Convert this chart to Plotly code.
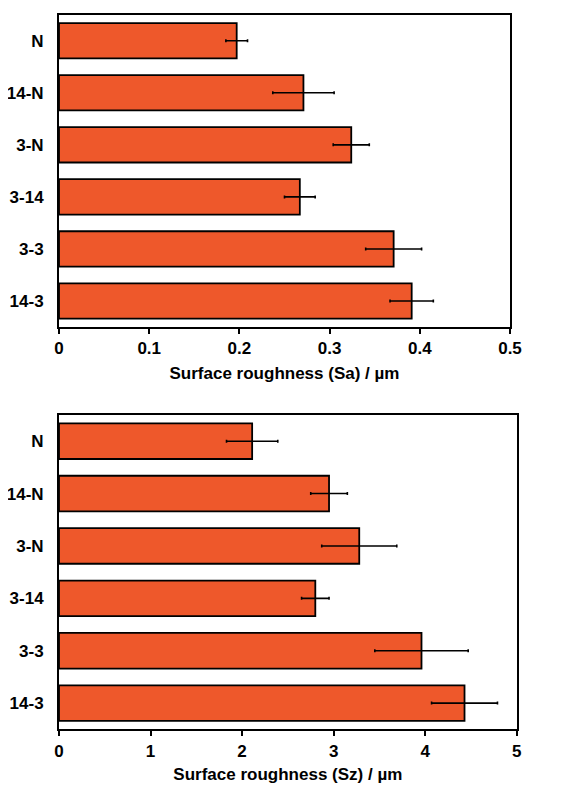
import plotly.graph_objects as go

categories = ["N", "14-N", "3-N", "3-14", "3-3", "14-3"]
sa_values = [0.197, 0.271, 0.324, 0.267, 0.371, 0.391]
sa_errors = [0.012, 0.034, 0.020, 0.017, 0.031, 0.024]
sz_values = [2.11, 2.95, 3.28, 2.80, 3.96, 4.43]
sz_errors = [0.28, 0.20, 0.41, 0.15, 0.51, 0.36]
sa_ticks = [0, 0.1, 0.2, 0.3, 0.4, 0.5]
sa_ticklabels = ["0", "0.1", "0.2", "0.3", "0.4", "0.5"]
sz_ticks = [0, 1, 2, 3, 4, 5]
sz_ticklabels = ["0", "1", "2", "3", "4", "5"]

# page has an 8px body margin; work in page pixels and convert
OFF = 8
W, H = 573 - OFF, 785 - OFF
FILL = "#EE582B"
font = dict(family="Liberation Sans, Arial, sans-serif", size=17, color="black", weight="bold")


def px_x(p):
    return (p - OFF) / W


def px_y(p):
    return 1 - (p - OFF) / H


fig = go.Figure()
fig.add_trace(go.Bar(
    x=sa_values, y=categories, orientation="h", xaxis="x", yaxis="y",
    marker=dict(color=FILL, line=dict(color="black", width=1.8)),
    error_x=dict(type="data", array=sa_errors, color="black", thickness=1.6, width=1.5),
    showlegend=False,
))
fig.add_trace(go.Bar(
    x=sz_values, y=categories, orientation="h", xaxis="x2", yaxis="y2",
    marker=dict(color=FILL, line=dict(color="black", width=1.8)),
    error_x=dict(type="data", array=sz_errors, color="black", thickness=1.6, width=1.5),
    showlegend=False,
))


def xax(domain, ticks, labels, rng, title, anchor, standoff):
    return dict(domain=domain, range=rng, tickvals=ticks, ticktext=labels,
                showline=True, mirror=True, linecolor="black", linewidth=2,
                ticks="outside", ticklen=5, tickwidth=1.8, tickcolor="black",
                showgrid=False, zeroline=False, tickfont=font, anchor=anchor,
                title=dict(text=title, font=font, standoff=standoff), automargin=False)


def yax(domain, anchor):
    return dict(type="category", domain=domain, range=[5.5, -0.5],
                categoryorder="array", categoryarray=categories,
                showline=True, mirror=True, linecolor="black", linewidth=2,
                ticks="", showgrid=False, zeroline=False, tickfont=font,
                anchor=anchor, automargin=False, ticklabelstandoff=10)


fig.update_layout(
    width=W, height=H, margin=dict(l=0, r=0, t=0, b=0),
    paper_bgcolor="white", plot_bgcolor="white", bargap=0.32,
    xaxis=xax([px_x(59), px_x(510)], sa_ticks, sa_ticklabels, [0, 0.5],
              "Surface roughness (Sa) / µm", "y", 10),
    yaxis=yax([px_y(327), px_y(14.7)], "x"),
    xaxis2=xax([px_x(59), px_x(516.7)], sz_ticks, sz_ticklabels, [0, 5],
               "Surface roughness (Sz) / µm", "y2", 8),
    yaxis2=yax([px_y(729.3), px_y(415)], "x2"),
)

fig.write_html("out.html")
